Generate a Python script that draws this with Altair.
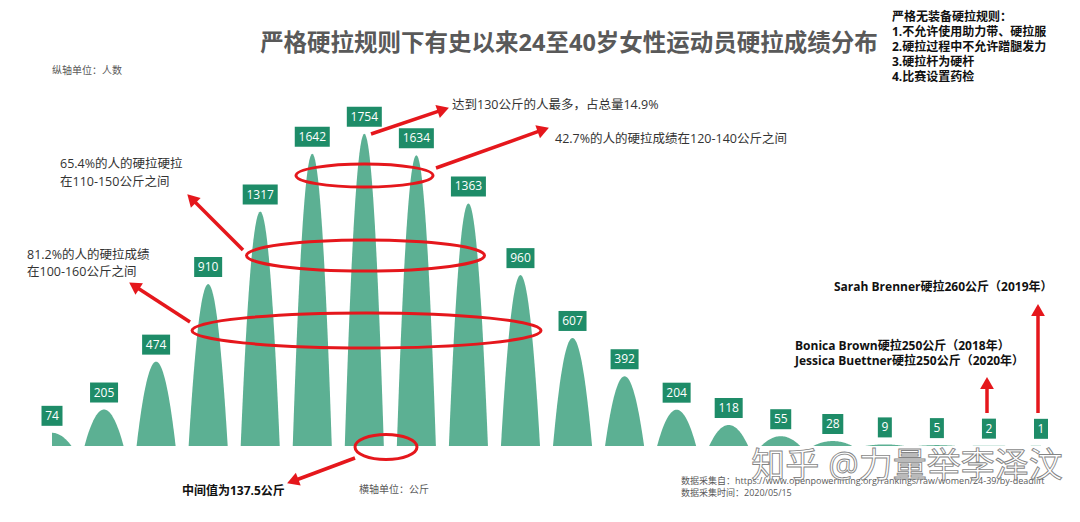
import math
import numpy as np
import pandas as pd
import altair as alt

# ---------------- data ----------------
weights = [70, 80, 90, 100, 110, 120, 130, 140, 150, 160,
           170, 180, 190, 200, 210, 220, 230, 240, 250, 260]
counts = [74, 205, 474, 910, 1317, 1642, 1754, 1634, 1363, 960,
          607, 392, 204, 118, 55, 28, 9, 5, 2, 1]

title_text = "严格硬拉规则下有史以来24至40岁女性运动员硬拉成绩分布"
rules_lines = ["严格无装备硬拉规则：",
               "1.不允许使用助力带、硬拉服",
               "2.硬拉过程中不允许蹭腿发力",
               "3.硬拉杆为硬杆",
               "4.比赛设置药检"]
y_unit = "纵轴单位：人数"
x_unit = "横轴单位：公斤"
note_top = "达到130公斤的人最多，占总量14.9%"
note_427 = "42.7%的人的硬拉成绩在120-140公斤之间"
note_654 = ["65.4%的人的硬拉硬拉", "在110-150公斤之间"]
note_812 = ["81.2%的人的硬拉成绩", "在100-160公斤之间"]
note_median = "中间值为137.5公斤"
note_260 = "Sarah Brenner硬拉260公斤（2019年）"
note_250 = ["Bonica Brown硬拉250公斤（2018年）", "Jessica Buettner硬拉250公斤（2020年）"]
source_lines = ["数据采集自：https://www.openpowerlifting.org/rankings/raw/women/24-39/by-deadlift",
                "数据采集时间：2020/05/15"]
watermark = "知乎 @力量举李泽汶"

# ---------------- style ----------------
FONT = "Open Sans, Noto Sans CJK SC"
W, H = 989, 356
PEAK = "#5cb093"
BOX = "#1e8c68"
RED = "#e5171c"
GRID = "#ececec"
GREY = "#595959"

# peak silhouettes (one bell per weight class, scaled by its count)
HALF = 3.75
ts = np.linspace(-1, 1, 41)
rows = []
for w, c in zip(weights, counts):
    for t in ts:
        rows.append({"kg": w, "x": w + t * HALF, "y": c * (1 - t * t)})
peaks_df = pd.DataFrame(rows)

xscale = alt.Scale(domain=[70, 260], nice=False, zero=False)
yscale = alt.Scale(domain=[0, 2000], nice=False)

peaks = alt.Chart(peaks_df).mark_area(color=PEAK, clip=True, opacity=1).encode(
    x=alt.X("x:Q", scale=xscale,
            axis=alt.Axis(values=weights, title=None, grid=True, gridColor=GRID,
                          ticks=False, domain=False, labelFlush=False,
                          labelOverlap=False, labelPadding=9, labelFontSize=12,
                          labelColor=GREY, labelFont=FONT)),
    y=alt.Y("y:Q", stack=None, scale=yscale,
            axis=alt.Axis(values=list(range(0, 2001, 200)), title=None, grid=True,
                          gridColor=GRID, ticks=False, domain=False, labels=False)),
    detail="kg:N",
)

lab_df = pd.DataFrame({"kg": weights, "count": counts})
lab_df["label"] = lab_df["count"].astype(str)


def box_path(n):
    hw = (7 * n + 7) / 20.0
    return f"M{-hw},-1L{hw},-1L{hw},1L{-hw},1Z"


lab_df["box"] = [box_path(len(s)) for s in lab_df["label"]]

boxes = alt.Chart(lab_df).mark_point(filled=True, color=BOX, opacity=1, size=400,
                                     yOffset=-17, strokeWidth=0).encode(
    x=alt.X("kg:Q", scale=xscale, axis=None),
    y=alt.Y("count:Q", scale=yscale, axis=None),
    shape=alt.Shape("box:N", scale=None),
)
box_text = alt.Chart(lab_df).mark_text(color="white", fontSize=12, font=FONT,
                                       dy=-17, baseline="middle").encode(
    x=alt.X("kg:Q", scale=xscale, axis=None),
    y=alt.Y("count:Q", scale=yscale, axis=None),
    text="label:N",
)

one = pd.DataFrame({"d": [0]})


def label(text, x, y, size=12, weight="normal", color="#333333", align="left", **kw):
    return alt.Chart(pd.DataFrame({"t": [text]})).mark_text(
        align=align, baseline="middle", fontSize=size, fontWeight=weight,
        color=color, font=FONT, **kw).encode(
        x=alt.value(x), y=alt.value(y), text="t:N")


def ellipse(cx, cy, rx, ry):
    a = ry / rx
    k = 0.5523
    p = (f"M-1,0C-1,{-k*a} {-k},{-a} 0,{-a}C{k},{-a} 1,{-k*a} 1,0"
         f"C1,{k*a} {k},{a} 0,{a}C{-k},{a} -1,{k*a} -1,0Z")
    return alt.Chart(one).mark_point(shape=p, size=(2 * rx) ** 2, filled=False,
                                     color=RED, strokeWidth=3, opacity=1).encode(
        x=alt.value(cx), y=alt.value(cy))


def arrow(x1, y1, x2, y2, head=190):
    dx, dy = x2 - x1, y2 - y1
    L = math.hypot(dx, dy)
    ux, uy = dx / L, dy / L
    ang = math.degrees(math.atan2(dx, -dy)) % 360
    cx, cy = x2 - 5 * ux, y2 - 5 * uy
    line = alt.Chart(one).mark_rule(color=RED, strokeWidth=3.5).encode(
        x=alt.value(x1), y=alt.value(y1), x2=alt.value(cx), y2=alt.value(cy))
    hd = alt.Chart(one).mark_point(shape="triangle-up", filled=True, size=head,
                                   color=RED, opacity=1, angle=ang).encode(
        x=alt.value(cx), y=alt.value(cy))
    return [line, hd]


layers = [peaks]
layers += [ellipse(312.5, 85.5, 68.5, 11.5),
           ellipse(313.5, 165.5, 119, 15.5),
           ellipse(314.5, 240.5, 174.5, 17.5),
           ellipse(334, 357, 31, 12.5)]
layers += arrow(319, 44, 396, 18)
layers += arrow(384, 78, 496, 38)
layers += arrow(191, 160, 136, 105)
layers += arrow(138, 232, 78, 193)
layers += arrow(303, 368, 236, 393)
layers += arrow(935, 323, 935, 288)
layers += arrow(986, 323, 986, 215)
layers += [boxes, box_text]

# texts
layers.append(label(title_text, 517, -46, size=23.5, weight="bold", color=GREY, align="center"))
layers.append(label(y_unit, 0, -19, size=10, color=GREY))
layers.append(label("\n".join(rules_lines), 840, -73.5, size=12, weight="bold",
                    color="#111111", lineBreak="\n", lineHeight=15))
layers.append(label(note_top, 400, 15, size=12.5))
layers.append(label(note_427, 503, 49, size=12.5))
layers.append(label("\n".join(note_654), 8, 74, size=12.5, lineBreak="\n", lineHeight=18))
layers.append(label("\n".join(note_812), -25, 164.5, size=12.5, lineBreak="\n", lineHeight=17))
layers.append(label(note_260, 782, 197, size=12, weight="bold", color="#111111"))
layers.append(label("\n".join(note_250), 743, 256, size=12, weight="bold", color="#111111",
                    lineBreak="\n", lineHeight=15))
layers.append(label(note_median, 130, 401, size=12, weight="bold", color="#111111"))
layers.append(label(x_unit, 307, 400, size=10, color=GREY))
layers.append(label("\n".join(source_lines), 629, 391, size=9, color=GREY,
                    lineBreak="\n", lineHeight=12))
layers.append(alt.Chart(pd.DataFrame({"t": [watermark]})).mark_text(
    align="center", baseline="middle", fontSize=34, font=FONT, fill="white",
    stroke="#6f6f6f", strokeWidth=0.9, opacity=0.85).encode(
    x=alt.value(855), y=alt.value(377), text="t:N"))

chart = alt.layer(*layers).properties(
    width=W, height=H,
    autosize=alt.AutoSizeParams(type="none"),
    padding={"left": 44, "top": 82, "right": 31, "bottom": 68},
    background="white",
).configure_view(stroke=None)

chart.save("out.html", embed_options={"renderer": "svg", "actions": False})
